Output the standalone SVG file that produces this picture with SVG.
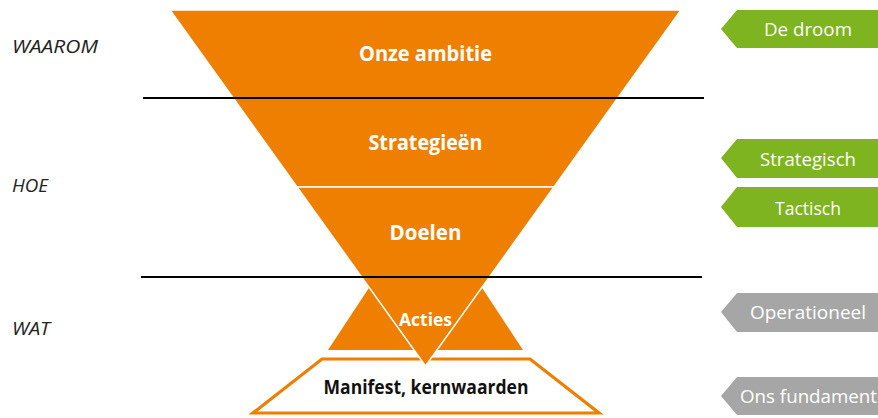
<svg xmlns="http://www.w3.org/2000/svg" width="878" height="418" viewBox="0 0 878 418">
<style>
.seg{fill:#ef7f00;stroke:#ffffff;stroke-width:1.5;stroke-linejoin:miter}
.wt{font-family:"Open Sans","Liberation Sans",sans-serif;font-weight:bold;fill:#ffffff;text-anchor:middle}
.side{font-family:"Open Sans","Liberation Sans",sans-serif;font-style:italic;font-size:18px;fill:#222222}
.tag{font-family:"Open Sans","Liberation Sans",sans-serif;font-size:18px;fill:#ffffff}
.green{fill:#7db41f}
.gray{fill:#a6a6a6}
.sep{stroke:#000000;stroke-width:2.2}
</style>
<rect width="878" height="418" fill="#ffffff"/>
<g id="fundament">
<polygon points="322,359 530,359 599,413 253,413" fill="#ffffff" stroke="#ef7f00" stroke-width="3.2" stroke-linejoin="miter"/>
<text x="426" y="394" font-family="Open Sans, Liberation Sans, sans-serif" font-weight="bold" font-size="20" fill="#111111" text-anchor="middle" textLength="205" lengthAdjust="spacingAndGlyphs">Manifest, kernwaarden</text>
</g>
<g id="pyramid">
<polygon points="425.5,202 523,350 328,350" fill="#ef7f00"/>
</g>
<g id="ambitie">
<polygon class="seg" points="170,10 681,10 617.8,98 233.2,98"/>
<text class="wt" x="425.5" y="61" font-size="21" textLength="133" lengthAdjust="spacingAndGlyphs">Onze ambitie</text>
</g>
<g id="strategieen">
<polygon class="seg" points="233.2,98 617.8,98 554,187 297,187"/>
<text class="wt" x="425.5" y="150" font-size="21" textLength="114" lengthAdjust="spacingAndGlyphs">Strategieën</text>
</g>
<g id="doelen">
<polygon class="seg" points="297,187 554,187 489.4,277 361.6,277"/>
<text class="wt" x="425.5" y="240" font-size="21" textLength="72" lengthAdjust="spacingAndGlyphs">Doelen</text>
</g>
<g id="acties">
<polygon class="seg" points="361.6,277 489.4,277 425.5,366"/>
<text class="wt" x="425.5" y="326" font-size="18" textLength="53" lengthAdjust="spacingAndGlyphs">Acties</text>
</g>
<g id="lines">
<line class="sep" x1="143" y1="98" x2="704" y2="98"/>
<line class="sep" x1="141" y1="277" x2="702" y2="277"/>
</g>
<g id="labels-left">
<text class="side" x="12" y="53" textLength="86" lengthAdjust="spacingAndGlyphs">WAAROM</text>
<text class="side" x="12" y="192" textLength="36" lengthAdjust="spacingAndGlyphs">HOE</text>
<text class="side" x="12" y="335" textLength="38" lengthAdjust="spacingAndGlyphs">WAT</text>
</g>
<g id="tag-droom">
<polygon class="green" points="721,29 737,10 878,10 878,48 737,48"/>
<text class="tag" x="764" y="36" textLength="88" lengthAdjust="spacingAndGlyphs">De droom</text>
</g>
<g id="tag-strategisch">
<polygon class="green" points="721,158 737,139 878,139 878,178 737,178"/>
<text class="tag" x="760" y="166" textLength="96" lengthAdjust="spacingAndGlyphs">Strategisch</text>
</g>
<g id="tag-tactisch">
<polygon class="green" points="721,207 737,187 878,187 878,227 737,227"/>
<text class="tag" x="775" y="215" textLength="66" lengthAdjust="spacingAndGlyphs">Tactisch</text>
</g>
<g id="tag-operationeel">
<polygon class="gray" points="721,312 737,293 878,293 878,332 737,332"/>
<text class="tag" x="750" y="319" textLength="116" lengthAdjust="spacingAndGlyphs">Operationeel</text>
</g>
<g id="tag-fundament">
<polygon class="gray" points="721,396 737,377 878,377 878,415 737,415"/>
<text class="tag" x="740" y="403" textLength="137" lengthAdjust="spacingAndGlyphs">Ons fundament</text>
</g>
</svg>
